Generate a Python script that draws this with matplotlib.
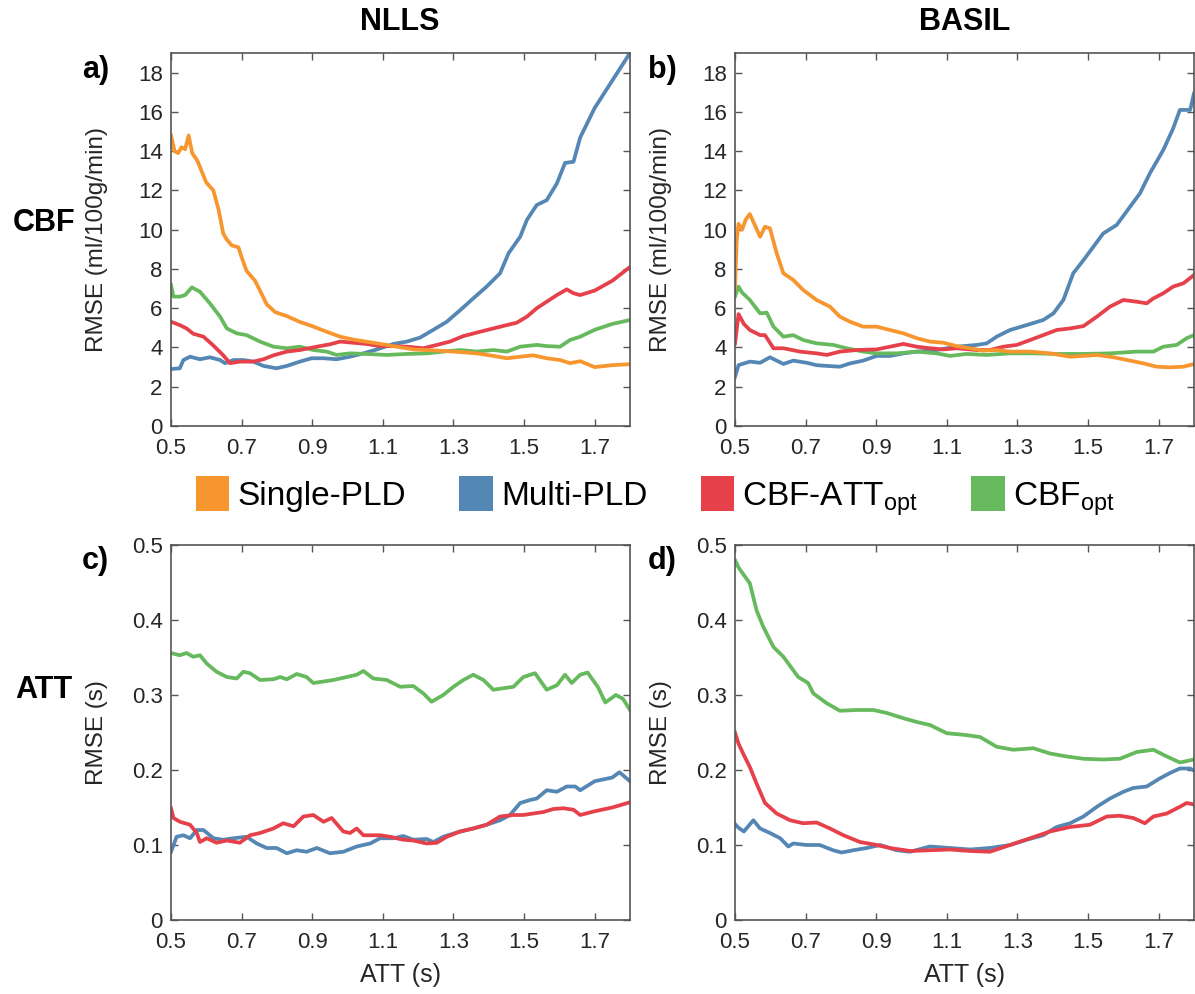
"""RMSE of CBF and ATT estimates vs. arrival time, NLLS vs BASIL fitting."""
import matplotlib
matplotlib.use("Agg")
import matplotlib.pyplot as plt
from matplotlib.patches import Patch

plt.rcParams['font.family'] = ['Liberation Sans', 'DejaVu Sans']
plt.rcParams['mathtext.fontset'] = 'custom'
plt.rcParams['mathtext.rm'] = 'Liberation Sans'

# (ATT [s], RMSE) pairs
# --- panel a: CBF, NLLS
a_single = [(0.50, 14.8), (0.51, 14.0), (0.52, 13.9), (0.53, 14.2), (0.54, 14.1), (0.55, 14.8),
            (0.56, 13.9), (0.575, 13.5), (0.60, 12.4), (0.62, 12.0), (0.635, 11.0), (0.648, 9.8),
            (0.658, 9.5), (0.672, 9.2), (0.691, 9.1), (0.70, 8.6), (0.714, 7.9), (0.738, 7.4),
            (0.752, 6.9), (0.771, 6.2), (0.795, 5.8), (0.828, 5.6), (0.865, 5.3), (0.898, 5.1),
            (0.941, 4.8), (0.979, 4.55), (1.017, 4.4), (1.073, 4.24), (1.13, 4.07), (1.187, 3.9),
            (1.224, 3.87), (1.30, 3.79), (1.366, 3.7), (1.413, 3.57), (1.451, 3.45), (1.489, 3.53),
            (1.526, 3.6), (1.564, 3.45), (1.602, 3.36), (1.63, 3.2), (1.659, 3.3), (1.70, 3.0),
            (1.75, 3.1), (1.80, 3.15)]
a_multi = [(0.50, 2.9), (0.525, 2.94), (0.535, 3.36), (0.554, 3.53), (0.582, 3.4), (0.61, 3.5),
           (0.639, 3.36), (0.653, 3.2), (0.677, 3.36), (0.705, 3.36), (0.733, 3.28), (0.762, 3.06),
           (0.799, 2.94), (0.828, 3.06), (0.865, 3.28), (0.898, 3.45), (0.932, 3.45), (0.969, 3.4),
           (1.007, 3.53), (1.045, 3.7), (1.083, 3.9), (1.13, 4.18), (1.168, 4.3), (1.205, 4.5),
           (1.243, 4.9), (1.281, 5.31), (1.319, 5.9), (1.356, 6.5), (1.394, 7.1), (1.432, 7.78),
           (1.456, 8.8), (1.489, 9.64), (1.508, 10.5), (1.536, 11.26), (1.564, 11.5), (1.593, 12.36),
           (1.616, 13.4), (1.64, 13.46), (1.659, 14.7), (1.70, 16.2), (1.75, 17.6), (1.80, 19.0)]
a_cbfatt = [(0.50, 5.31), (0.525, 5.14), (0.544, 4.97), (0.563, 4.7), (0.592, 4.55), (0.62, 4.1),
            (0.648, 3.6), (0.667, 3.2), (0.695, 3.28), (0.733, 3.28), (0.762, 3.4), (0.79, 3.6),
            (0.828, 3.79), (0.865, 3.87), (0.913, 4.04), (0.95, 4.16), (0.979, 4.3), (1.017, 4.24),
            (1.054, 4.18), (1.092, 4.07), (1.13, 4.07), (1.168, 4.04), (1.215, 3.96), (1.253, 4.13),
            (1.29, 4.3), (1.328, 4.58), (1.375, 4.8), (1.413, 4.97), (1.451, 5.14), (1.479, 5.26),
            (1.508, 5.57), (1.536, 6.0), (1.564, 6.33), (1.593, 6.67), (1.621, 6.96), (1.64, 6.76),
            (1.659, 6.67), (1.70, 6.9), (1.75, 7.4), (1.80, 8.1)]
a_cbf = [(0.50, 7.18), (0.507, 6.59), (0.525, 6.59), (0.54, 6.67), (0.559, 7.06), (0.582, 6.84),
         (0.61, 6.25), (0.639, 5.57), (0.658, 4.97), (0.686, 4.72), (0.714, 4.63), (0.752, 4.3),
         (0.79, 4.04), (0.828, 3.96), (0.865, 4.04), (0.903, 3.87), (0.941, 3.79), (0.969, 3.62),
         (1.007, 3.7), (1.054, 3.67), (1.111, 3.62), (1.168, 3.67), (1.224, 3.7), (1.271, 3.79),
         (1.319, 3.87), (1.366, 3.79), (1.413, 3.87), (1.451, 3.79), (1.489, 4.04), (1.536, 4.13),
         (1.564, 4.07), (1.602, 4.04), (1.63, 4.38), (1.659, 4.55), (1.70, 4.9), (1.75, 5.2),
         (1.80, 5.4)]

# --- panel b: CBF, BASIL
b_single = [(0.50, 7.0), (0.505, 9.5), (0.51, 10.3), (0.52, 10.0), (0.53, 10.5), (0.542, 10.8),
            (0.571, 9.64), (0.585, 10.15), (0.599, 10.07), (0.618, 8.8), (0.637, 7.78), (0.665, 7.44),
            (0.693, 6.93), (0.731, 6.42), (0.769, 6.08), (0.797, 5.57), (0.826, 5.31), (0.863, 5.06),
            (0.901, 5.06), (0.939, 4.89), (0.977, 4.72), (1.015, 4.47), (1.052, 4.3), (1.09, 4.24),
            (1.128, 4.07), (1.166, 3.96), (1.203, 3.84), (1.241, 3.87), (1.279, 3.79), (1.336, 3.79),
            (1.392, 3.7), (1.449, 3.53), (1.487, 3.57), (1.525, 3.62), (1.572, 3.5), (1.619, 3.33),
            (1.657, 3.19), (1.694, 3.02), (1.732, 2.99), (1.77, 3.02), (1.80, 3.16)]
b_multi = [(0.50, 2.5), (0.51, 3.1), (0.542, 3.28), (0.571, 3.22), (0.599, 3.5), (0.637, 3.16),
           (0.665, 3.33), (0.703, 3.22), (0.731, 3.1), (0.76, 3.06), (0.797, 3.02), (0.826, 3.19),
           (0.863, 3.33), (0.901, 3.57), (0.939, 3.57), (0.977, 3.7), (1.015, 3.79), (1.071, 3.87),
           (1.128, 4.04), (1.185, 4.13), (1.213, 4.21), (1.241, 4.55), (1.279, 4.89), (1.326, 5.14),
           (1.373, 5.4), (1.402, 5.74), (1.43, 6.42), (1.458, 7.78), (1.487, 8.45), (1.515, 9.13),
           (1.543, 9.81), (1.581, 10.24), (1.619, 11.17), (1.647, 11.85), (1.675, 12.87),
           (1.713, 14.06), (1.741, 15.16), (1.76, 16.1), (1.789, 16.1), (1.80, 16.94)]
b_cbfatt = [(0.50, 4.2), (0.51, 5.7), (0.525, 5.2), (0.542, 4.89), (0.571, 4.63), (0.585, 4.63),
            (0.609, 3.96), (0.637, 3.96), (0.684, 3.79), (0.731, 3.7), (0.76, 3.62), (0.797, 3.79),
            (0.845, 3.87), (0.901, 3.9), (0.939, 4.04), (0.977, 4.18), (1.015, 4.04), (1.052, 3.96),
            (1.09, 3.9), (1.128, 3.96), (1.185, 3.87), (1.222, 3.87), (1.26, 4.04), (1.298, 4.13),
            (1.336, 4.38), (1.373, 4.63), (1.411, 4.89), (1.449, 4.97), (1.487, 5.09), (1.525, 5.57),
            (1.562, 6.08), (1.60, 6.42), (1.638, 6.33), (1.666, 6.25), (1.685, 6.5), (1.713, 6.76),
            (1.741, 7.1), (1.77, 7.27), (1.80, 7.69)]
b_cbf = [(0.50, 6.6), (0.51, 7.1), (0.52, 6.8), (0.542, 6.42), (0.571, 5.74), (0.59, 5.77),
         (0.609, 5.06), (0.637, 4.55), (0.665, 4.63), (0.693, 4.38), (0.731, 4.21), (0.778, 4.13),
         (0.816, 3.96), (0.863, 3.79), (0.901, 3.7), (0.958, 3.7), (1.015, 3.79), (1.071, 3.7),
         (1.109, 3.57), (1.156, 3.67), (1.213, 3.62), (1.279, 3.7), (1.345, 3.7), (1.411, 3.67),
         (1.487, 3.67), (1.562, 3.7), (1.638, 3.79), (1.685, 3.79), (1.713, 4.04), (1.751, 4.13),
         (1.779, 4.47), (1.80, 4.63)]

# --- panel c: ATT, NLLS
c_multi = [(0.50, 0.091), (0.516, 0.111), (0.535, 0.113), (0.554, 0.109), (0.573, 0.12),
           (0.592, 0.12), (0.62, 0.109), (0.648, 0.107), (0.677, 0.109), (0.714, 0.111),
           (0.743, 0.102), (0.771, 0.096), (0.799, 0.096), (0.828, 0.089), (0.856, 0.093),
           (0.884, 0.091), (0.913, 0.096), (0.95, 0.089), (0.988, 0.091), (1.026, 0.098),
           (1.064, 0.102), (1.092, 0.109), (1.13, 0.109), (1.158, 0.112), (1.186, 0.107),
           (1.224, 0.108), (1.243, 0.104), (1.271, 0.111), (1.319, 0.118), (1.356, 0.122),
           (1.394, 0.127), (1.432, 0.133), (1.46, 0.14), (1.489, 0.156), (1.517, 0.16),
           (1.536, 0.162), (1.564, 0.173), (1.593, 0.171), (1.621, 0.178), (1.645, 0.178),
           (1.659, 0.173), (1.70, 0.185), (1.75, 0.19), (1.77, 0.197), (1.80, 0.185)]
c_cbfatt = [(0.50, 0.149), (0.507, 0.136), (0.525, 0.131), (0.554, 0.127), (0.573, 0.116),
            (0.582, 0.104), (0.601, 0.109), (0.629, 0.103), (0.658, 0.106), (0.695, 0.103),
            (0.724, 0.113), (0.752, 0.116), (0.79, 0.122), (0.818, 0.129), (0.847, 0.125),
            (0.875, 0.138), (0.903, 0.14), (0.932, 0.131), (0.955, 0.136), (0.988, 0.118),
            (1.007, 0.116), (1.026, 0.122), (1.045, 0.113), (1.092, 0.113), (1.12, 0.111),
            (1.158, 0.107), (1.186, 0.106), (1.224, 0.102), (1.253, 0.103), (1.281, 0.111),
            (1.319, 0.118), (1.356, 0.122), (1.394, 0.127), (1.432, 0.138), (1.47, 0.14),
            (1.498, 0.14), (1.526, 0.142), (1.555, 0.144), (1.583, 0.148), (1.611, 0.149),
            (1.64, 0.147), (1.659, 0.14), (1.70, 0.145), (1.75, 0.15), (1.80, 0.157)]
c_cbf = [(0.50, 0.356), (0.525, 0.353), (0.544, 0.356), (0.563, 0.351), (0.582, 0.353),
         (0.601, 0.342), (0.629, 0.331), (0.658, 0.324), (0.686, 0.322), (0.705, 0.331),
         (0.724, 0.329), (0.752, 0.32), (0.79, 0.321), (0.809, 0.324), (0.828, 0.321),
         (0.856, 0.328), (0.884, 0.324), (0.903, 0.316), (0.932, 0.318), (0.96, 0.32),
         (0.998, 0.324), (1.026, 0.327), (1.045, 0.332), (1.073, 0.322), (1.111, 0.32),
         (1.149, 0.311), (1.186, 0.312), (1.215, 0.302), (1.238, 0.291), (1.271, 0.30),
         (1.30, 0.311), (1.328, 0.32), (1.356, 0.327), (1.385, 0.32), (1.413, 0.307),
         (1.441, 0.309), (1.47, 0.311), (1.498, 0.324), (1.531, 0.329), (1.564, 0.307),
         (1.593, 0.313), (1.616, 0.327), (1.635, 0.316), (1.659, 0.327), (1.68, 0.33),
         (1.71, 0.31), (1.73, 0.29), (1.76, 0.30), (1.78, 0.295), (1.80, 0.28)]

# --- panel d: ATT, BASIL
d_multi = [(0.50, 0.128), (0.51, 0.123), (0.525, 0.118), (0.552, 0.133), (0.571, 0.122),
           (0.599, 0.116), (0.628, 0.109), (0.651, 0.098), (0.665, 0.102), (0.703, 0.10),
           (0.74, 0.10), (0.778, 0.093), (0.802, 0.09), (0.835, 0.093), (0.873, 0.096),
           (0.911, 0.10), (0.958, 0.093), (0.996, 0.091), (1.052, 0.098), (1.109, 0.096),
           (1.166, 0.094), (1.222, 0.096), (1.279, 0.10), (1.326, 0.107), (1.373, 0.113),
           (1.411, 0.124), (1.449, 0.129), (1.487, 0.138), (1.525, 0.151), (1.562, 0.162),
           (1.60, 0.171), (1.628, 0.176), (1.666, 0.178), (1.704, 0.189), (1.732, 0.196),
           (1.76, 0.202), (1.789, 0.202), (1.80, 0.199)]
d_cbfatt = [(0.50, 0.25), (0.51, 0.235), (0.525, 0.22), (0.542, 0.204), (0.561, 0.182),
            (0.585, 0.156), (0.618, 0.142), (0.656, 0.133), (0.693, 0.129), (0.731, 0.13),
            (0.769, 0.122), (0.807, 0.113), (0.854, 0.104), (0.901, 0.10), (0.939, 0.096),
            (0.996, 0.092), (1.052, 0.093), (1.109, 0.094), (1.166, 0.092), (1.222, 0.091),
            (1.279, 0.10), (1.336, 0.109), (1.392, 0.118), (1.449, 0.124), (1.505, 0.127),
            (1.553, 0.138), (1.59, 0.139), (1.628, 0.136), (1.661, 0.129), (1.685, 0.138),
            (1.723, 0.142), (1.76, 0.151), (1.779, 0.156), (1.80, 0.154)]
d_cbf = [(0.50, 0.48), (0.51, 0.47), (0.525, 0.46), (0.542, 0.449), (0.561, 0.413),
         (0.58, 0.391), (0.609, 0.364), (0.637, 0.351), (0.665, 0.333), (0.679, 0.324),
         (0.707, 0.316), (0.722, 0.302), (0.76, 0.289), (0.797, 0.279), (0.845, 0.28),
         (0.892, 0.28), (0.93, 0.276), (0.977, 0.269), (1.015, 0.264), (1.052, 0.26),
         (1.10, 0.249), (1.147, 0.247), (1.194, 0.244), (1.241, 0.231), (1.288, 0.227),
         (1.345, 0.229), (1.392, 0.222), (1.44, 0.218), (1.487, 0.215), (1.543, 0.214),
         (1.59, 0.215), (1.638, 0.224), (1.685, 0.227), (1.723, 0.218), (1.76, 0.21),
         (1.80, 0.214)]

methods = ['Single-PLD', 'Multi-PLD', 'CBF-ATT$_{\\mathrm{opt}}$', 'CBF$_{\\mathrm{opt}}$']
colors = {'Single-PLD': '#F7962E', 'Multi-PLD': '#5587B4',
          'CBF-ATT': '#E6414A', 'CBF': '#66B95C'}

x_ticks = [0.5, 0.7, 0.9, 1.1, 1.3, 1.5, 1.7]
x_ticklabels = ['0.5', '0.7', '0.9', '1.1', '1.3', '1.5', '1.7']
cbf_ticks = [0, 2, 4, 6, 8, 10, 12, 14, 16, 18]
att_ticks = [0, 0.1, 0.2, 0.3, 0.4, 0.5]
att_ticklabels = ['0', '0.1', '0.2', '0.3', '0.4', '0.5']

W, H = 1195, 994
fig = plt.figure(figsize=(W / 100, H / 100), dpi=100)


def px_axes(left, top, right, bottom):
    return fig.add_axes([left / W, 1 - bottom / H, (right - left) / W, (bottom - top) / H])


def style(ax):
    for sp in ax.spines.values():
        sp.set_color('#555555')
        sp.set_linewidth(1.2)
    ax.tick_params(direction='in', top=True, right=True, length=5, width=1,
                   color='#555555', labelcolor='#262626', labelsize=16)
    ax.tick_params(axis='x', pad=9)
    ax.tick_params(axis='y', pad=6)
    ax.set_xlim(0.5, 1.8)
    ax.set_xticks(x_ticks, x_ticklabels)


def draw(ax, series):
    for data, key in series:
        xs, ys = zip(*data)
        ax.plot(xs, ys, color=colors[key], lw=2.7, solid_joinstyle='round')


ax_a = px_axes(171, 53, 630, 426)
ax_b = px_axes(735, 53, 1194, 426)
ax_c = px_axes(171, 545, 630, 920)
ax_d = px_axes(735, 545, 1194, 920)

draw(ax_a, [(a_multi, 'Multi-PLD'), (a_cbf, 'CBF'), (a_cbfatt, 'CBF-ATT'), (a_single, 'Single-PLD')])
draw(ax_b, [(b_multi, 'Multi-PLD'), (b_cbf, 'CBF'), (b_cbfatt, 'CBF-ATT'), (b_single, 'Single-PLD')])
draw(ax_c, [(c_cbf, 'CBF'), (c_multi, 'Multi-PLD'), (c_cbfatt, 'CBF-ATT')])
draw(ax_d, [(d_cbf, 'CBF'), (d_multi, 'Multi-PLD'), (d_cbfatt, 'CBF-ATT')])

for ax in (ax_a, ax_b):
    style(ax)
    ax.set_ylim(0, 19)
    ax.set_yticks(cbf_ticks)
    ax.set_ylabel('RMSE (ml/100g/min)', fontsize=17.5, color='#262626')
    ax.yaxis.set_label_coords(-0.138, 0.5)
for ax in (ax_c, ax_d):
    style(ax)
    ax.set_ylim(0, 0.5)
    ax.set_yticks(att_ticks, att_ticklabels)
    ax.set_ylabel('RMSE (s)', fontsize=17.5, color='#262626')
    ax.yaxis.set_label_coords(-0.138, 0.5)
    ax.set_xlabel('ATT (s)', fontsize=18, color='#262626')
    ax.xaxis.set_label_coords(0.5, -0.115)

# column / row headers and panel letters
fig.text(400 / W, 1 - 22 / H, 'NLLS', fontsize=22, fontweight='bold', ha='center', va='center')
fig.text(965 / W, 1 - 22 / H, 'BASIL', fontsize=22, fontweight='bold', ha='center', va='center')
fig.text(44 / W, 1 - 223 / H, 'CBF', fontsize=22, fontweight='bold', ha='center', va='center')
fig.text(44 / W, 1 - 690 / H, 'ATT', fontsize=22, fontweight='bold', ha='center', va='center')
for lab, x, y in [('a)', 82, 70), ('b)', 648, 70), ('c)', 82, 561), ('d)', 648, 561)]:
    fig.text(x / W, 1 - y / H, lab, fontsize=22, fontweight='bold', ha='left', va='center')

handles = [Patch(facecolor=colors[k], edgecolor='none')
           for k in ('Single-PLD', 'Multi-PLD', 'CBF-ATT', 'CBF')]
fig.legend(handles, methods, loc='center', bbox_to_anchor=(655 / W, 1 - 497 / H), ncol=4,
           frameon=False, fontsize=24, handlelength=1.0, handleheight=1.25,
           handletextpad=0.25, columnspacing=1.6, borderpad=0)

fig.savefig('out.png', dpi=100)
